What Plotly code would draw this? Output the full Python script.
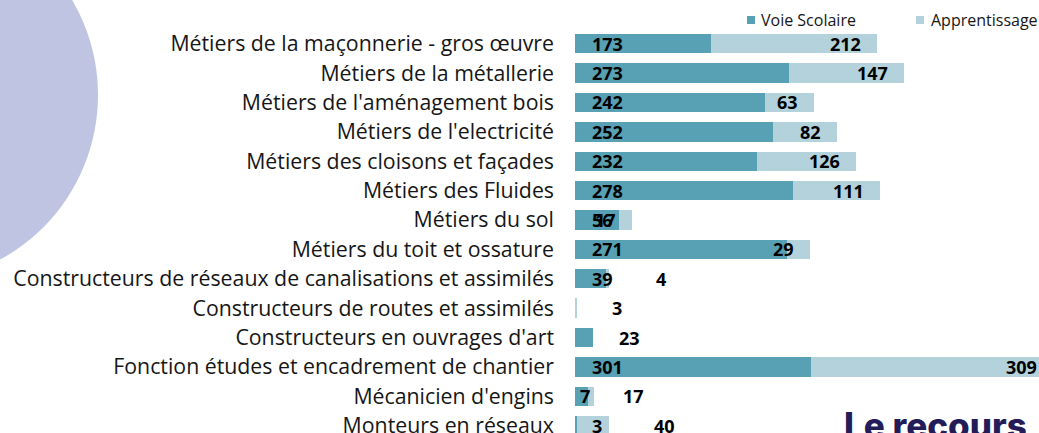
import plotly.graph_objects as go

# ---- data -------------------------------------------------------------
categories = [
    "Métiers de la maçonnerie - gros œuvre",
    "Métiers de la métallerie",
    "Métiers de l'aménagement bois",
    "Métiers de l'electricité",
    "Métiers des cloisons et façades",
    "Métiers des Fluides",
    "Métiers du sol",
    "Métiers du toit et ossature",
    "Constructeurs de réseaux de canalisations et assimilés",
    "Constructeurs de routes et assimilés",
    "Constructeurs en ouvrages d'art",
    "Fonction études et encadrement de chantier",
    "Mécanicien d'engins",
    "Monteurs en réseaux",
]
voie_scolaire = [173, 273, 242, 252, 232, 278, 56, 271, 39, 0, 23, 301, 17, 3]
apprentissage = [212, 147, 63, 82, 126, 111, 17, 29, 4, 3, 0, 309, 7, 40]
series_names = ["Voie Scolaire", "Apprentissage"]

# ---- style ------------------------------------------------------------
W, H = 1039, 433
M_L, M_T = 575, 29
PLOT_W, PLOT_H = W - M_L, H - M_T
X_MAX = 591.8
TEAL = "#58a0b4"
LIGHT = "#b4d2dc"
LAVENDER = "#c0c4e3"
NAVY = "#241c58"
TEXT = "#161616"
CAT_FONT = dict(family="Open Sans", size=21.3, color=TEXT)
VAL_FONT = dict(family="Open Sans", size=18, color="#000000", weight="bold")

# value labels: Voie Scolaire sits at the bar base, Apprentissage at the
# stack end; a few short rows carry their labels beside the stack instead
BASE_SHIFT = 15
END_SHIFT = -14
# (row, series) -> (anchor side, pixel shift from the stack end)
LABEL_OVERRIDES = {
    (8, 1): ("left", 45),
    (9, 1): ("left", 33),
    (10, 0): ("left", 24),
    (12, 0): ("left", 27),
    (12, 1): ("right", -2),
    (13, 1): ("left", 43),
}


def px_x(px):
    return (px - M_L) / PLOT_W


def px_y(py):
    return (H - py) / PLOT_H


fig = go.Figure()
for name, vals, color in zip(series_names, [voie_scolaire, apprentissage], [TEAL, LIGHT]):
    fig.add_trace(go.Bar(
        y=categories, x=vals, name=name, orientation="h",
        marker=dict(color=color, line=dict(width=0)),
        hoverinfo="x+y+name", showlegend=False,
    ))

annotations = []
for i, cat in enumerate(categories):
    total = voie_scolaire[i] + apprentissage[i]
    for s, val in enumerate([voie_scolaire[i], apprentissage[i]]):
        if val == 0:
            continue
        if (i, s) in LABEL_OVERRIDES:
            side, shift = LABEL_OVERRIDES[(i, s)]
            x, anchor = total / X_MAX, side
        elif s == 0:
            x, anchor, shift = 0, "left", BASE_SHIFT
        else:
            x, anchor, shift = total / X_MAX, "right", END_SHIFT
        annotations.append(dict(
            x=x, xref="paper", y=cat, yref="y", text=str(val),
            xanchor=anchor, xshift=shift, yanchor="middle",
            showarrow=False, font=VAL_FONT,
        ))

# legend, drawn as swatches and text
legend_items = [(series_names[0], TEAL, 747, 759), (series_names[1], LIGHT, 916, 929)]
shapes = [
    dict(type="circle", xref="paper", yref="paper", layer="below",
         x0=px_x(-275), x1=px_x(98), y0=px_y(282), y1=px_y(-92),
         fillcolor=LAVENDER, line=dict(width=0)),
]
for name, color, sx, tx in legend_items:
    shapes.append(dict(type="rect", xref="paper", yref="paper",
                       x0=px_x(sx), x1=px_x(sx + 8), y0=px_y(24), y1=px_y(16),
                       fillcolor=color, line=dict(width=0)))
    annotations.append(dict(x=px_x(tx), xref="paper", y=px_y(20), yref="paper",
                            text=name, xanchor="left", yanchor="middle",
                            showarrow=False,
                            font=dict(family="Open Sans", size=16, color=TEXT)))

# slide heading peeking in at the bottom
annotations.append(dict(x=px_x(842), xref="paper", y=px_y(402), yref="paper",
                        text="Le recours", xanchor="left", yanchor="top",
                        showarrow=False,
                        font=dict(family="Inter", size=35, color=NAVY, weight=800)))

fig.update_layout(
    width=W, height=H,
    margin=dict(l=M_L, r=0, t=M_T, b=0, pad=0, autoexpand=False),
    barmode="stack", bargap=0.34,
    paper_bgcolor="white", plot_bgcolor="white",
    showlegend=False,
    xaxis=dict(range=[0, X_MAX], visible=False, fixedrange=True, automargin=False),
    yaxis=dict(type="category", categoryorder="array", categoryarray=categories,
               range=[13.25, -0.5], showgrid=False, zeroline=False, showline=False,
               ticks="", tickfont=CAT_FONT, ticklabelstandoff=20, fixedrange=True,
               automargin=False),
    shapes=shapes,
    annotations=annotations,
)

fig.write_html("out.html")
